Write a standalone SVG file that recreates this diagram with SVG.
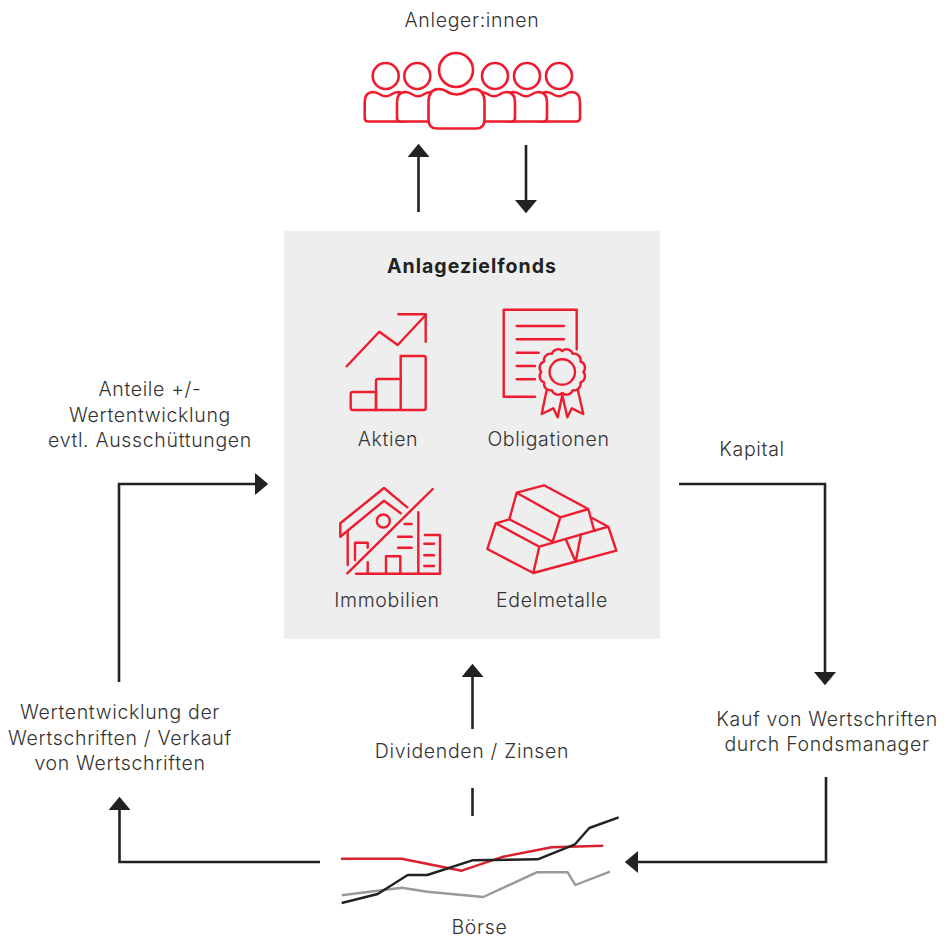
<svg xmlns="http://www.w3.org/2000/svg" width="949" height="936" viewBox="0 0 949 936">
<style>
text{font-family:"Inter","Liberation Sans",Arial,sans-serif;font-size:19.5px;font-weight:300;fill:#333;text-anchor:middle;letter-spacing:.66px}
.b{font-weight:700;fill:#222;font-size:19.5px;letter-spacing:1px}
.i{fill:none;stroke:#ee1c2e;stroke-width:2.4;stroke-linecap:round;stroke-linejoin:round}
.p{stroke-width:2.6;fill:#fff}
.c{fill:none;stroke:#222;stroke-width:2.6}
</style>
<defs>
<marker id="ah" markerUnits="userSpaceOnUse" markerWidth="22" markerHeight="22" viewBox="0 0 12 20" refX="0" refY="10" orient="auto"><path d="M0 0L12 10L0 20Z" fill="#222"/></marker>
<path id="pb" d="M-13 92q4 0 7.500 2.500q5.500 3.500 11 0q3.500-2.500 7.500-2.500q8 .5 8 10v16q0 3.500-3.500 3.500h-35q-3.500 0-3.500-3.500v-16q0-9.500 8-10z"/>
</defs>
<rect width="949" height="936" fill="#fff"/>
<g id="anleger">
<text x="472" y="27">Anleger:innen</text>
<g class="i p">
<circle cx="385.700" cy="76" r="13"/><circle cx="417.300" cy="76" r="13"/><circle cx="495" cy="76" r="13"/><circle cx="527" cy="76" r="13"/><circle cx="559" cy="76" r="13"/><circle cx="456" cy="70" r="17"/>
<use href="#pb" x="385.700"/>
<use href="#pb" x="418"/>
<use href="#pb" x="559"/>
<use href="#pb" x="526"/>
<use href="#pb" x="494"/>
<path d="M438.500 89q5 0 9 3q9 5 18 0q4-3 9-3q10 .5 10 13v17q0 9.500-8 9.500h-40q-8 0-8-9.500v-17q0-12.500 10-13z"/>
</g>
</g>
<g id="fonds">
<rect x="284" y="231" width="376" height="408" fill="#eee"/>
<text class="b" x="472" y="273">Anlagezielfonds</text>
</g>
<g id="aktien">
<g class="i">
<path d="M346.700 366.300L379.300 331.700L397.700 345L425.700 315"/>
<path d="M398.300 314.300H425.700V341.700"/>
<path d="M353 392H376V410H353Q350.700 410 350.700 408V394Q350.700 392 353 392Z"/>
<path d="M376 410V381Q376 379 378 379H400.700"/>
<path d="M376 410H423.700Q425.700 410 425.700 408V358Q425.700 356 423.700 356H400.700V410"/>
</g>
<text x="388" y="446">Aktien</text>
</g>
<g id="obligationen">
<g class="i">
<path d="M535 396.700H503.700V309.700H576.700V349.300"/>
<path d="M516.700 326H564M516.700 339.300H564M516.700 352.700H538.700M516.700 366H535M516.700 379.300H535"/>
<path d="M583.300 372A6.500 6.500 0 0 1 580.500 382.500A6.500 6.500 0 0 1 572.800 390.200A6.500 6.500 0 0 1 562.300 393A6.500 6.500 0 0 1 551.800 390.200A6.500 6.500 0 0 1 544.100 382.500A6.500 6.500 0 0 1 541.300 372A6.500 6.500 0 0 1 544.100 361.500A6.500 6.500 0 0 1 551.800 353.800A6.500 6.500 0 0 1 562.300 351A6.500 6.500 0 0 1 572.800 353.800A6.500 6.500 0 0 1 580.500 361.500A6.500 6.500 0 0 1 583.300 372Z"/>
<circle cx="562.300" cy="372" r="12.700"/>
<path d="M546.700 390L541.700 414L553.300 408.300L557.700 417.300L562.300 395L567.300 417.300L571.700 408.300L583.300 414L577.700 389.300"/>
</g>
<text x="548.500" y="446">Obligationen</text>
</g>
<g id="immobilien">
<g class="i">
<path d="M407.300 507.300L384 488L340.300 523.300V536.700L384 500.700L400.700 513.300"/>
<path d="M347.700 530.700V565M347.300 573.300L432.700 489"/>
<circle cx="383.300" cy="521" r="6.500"/>
<path d="M355 560V542.700H367.700V547.700M356 573.700H440V535H425M367.700 562.300V573.700M386 573.700V556.300H400.300V573.700M418.300 512.300V573.700"/>
<path d="M404.700 524H411.700M398 536.700H411.700M398 547.700H411.700M424.300 543.700H434M424.300 555.300H434M424.300 566H434"/>
</g>
<text x="387" y="607">Immobilien</text>
</g>
<g id="edelmetalle">
<g class="i">
<path d="M516.700 492.700L544 485.300L588.300 509L560.300 517.300ZM516.700 492.700L509.300 519.300L552.700 541.700L560.300 517.300M588.300 509L594.300 531"/>
<path d="M509.300 519.300L495.700 523.300L539.300 546.700L608.300 526.700L591.700 517.700M495.700 523.300L487.300 549L533.300 573L539.300 546.700M608.300 526.700L616.300 550.700L533.300 573"/>
<path d="M565.700 539.300L575.700 561.700L581 534.300"/>
</g>
<text x="552" y="607">Edelmetalle</text>
</g>
<g id="boerse">
<polyline class="i" style="stroke:#999;stroke-linecap:butt" points="341.700,895.300 401.700,887.700 427.300,891.700 483.300,897 536.700,872.300 567.700,872.300 575.300,885 610,871.700"/>
<polyline class="i" style="stroke:#d9202e;stroke-linecap:butt" points="341,858.700 401.700,858.700 461.700,870.700 503.300,856.700 551.700,847.300 603.300,845.700"/>
<polyline class="i" style="stroke:#222;stroke-linecap:butt" points="341.700,903 377.700,894 407.700,875 427.300,875 472.300,860.300 537.700,859.300 575,844.300 589.300,828 618.700,817.300"/>
<text x="479.500" y="933.500">Börse</text>
</g>
<g id="labels">
<text x="150" y="396">Anteile +/-</text>
<text x="150" y="422">Wertentwicklung</text>
<text x="150" y="447">evtl. Ausschüttungen</text>
<text x="752" y="456">Kapital</text>
<text x="827" y="726">Kauf von Wertschriften</text>
<text x="827" y="751">durch Fondsmanager</text>
<text x="472" y="758">Dividenden / Zinsen</text>
<text x="120" y="719">Wertentwicklung der</text>
<text x="120" y="745">Wertschriften / Verkauf</text>
<text x="120" y="770">von Wertschriften</text>
</g>
<g id="connectors" class="c">
<path d="M418.500 212V157" marker-end="url(#ah)"/>
<path d="M526 145V200" marker-end="url(#ah)"/>
<path d="M119 682V484H255" marker-end="url(#ah)"/>
<path d="M679 484H825V672" marker-end="url(#ah)"/>
<path d="M472.500 729V677" marker-end="url(#ah)"/>
<path d="M472.500 816V788"/>
<path d="M320 862H119.500V810" marker-end="url(#ah)"/>
<path d="M826 777V862H638" marker-end="url(#ah)"/>
</g>
</svg>
